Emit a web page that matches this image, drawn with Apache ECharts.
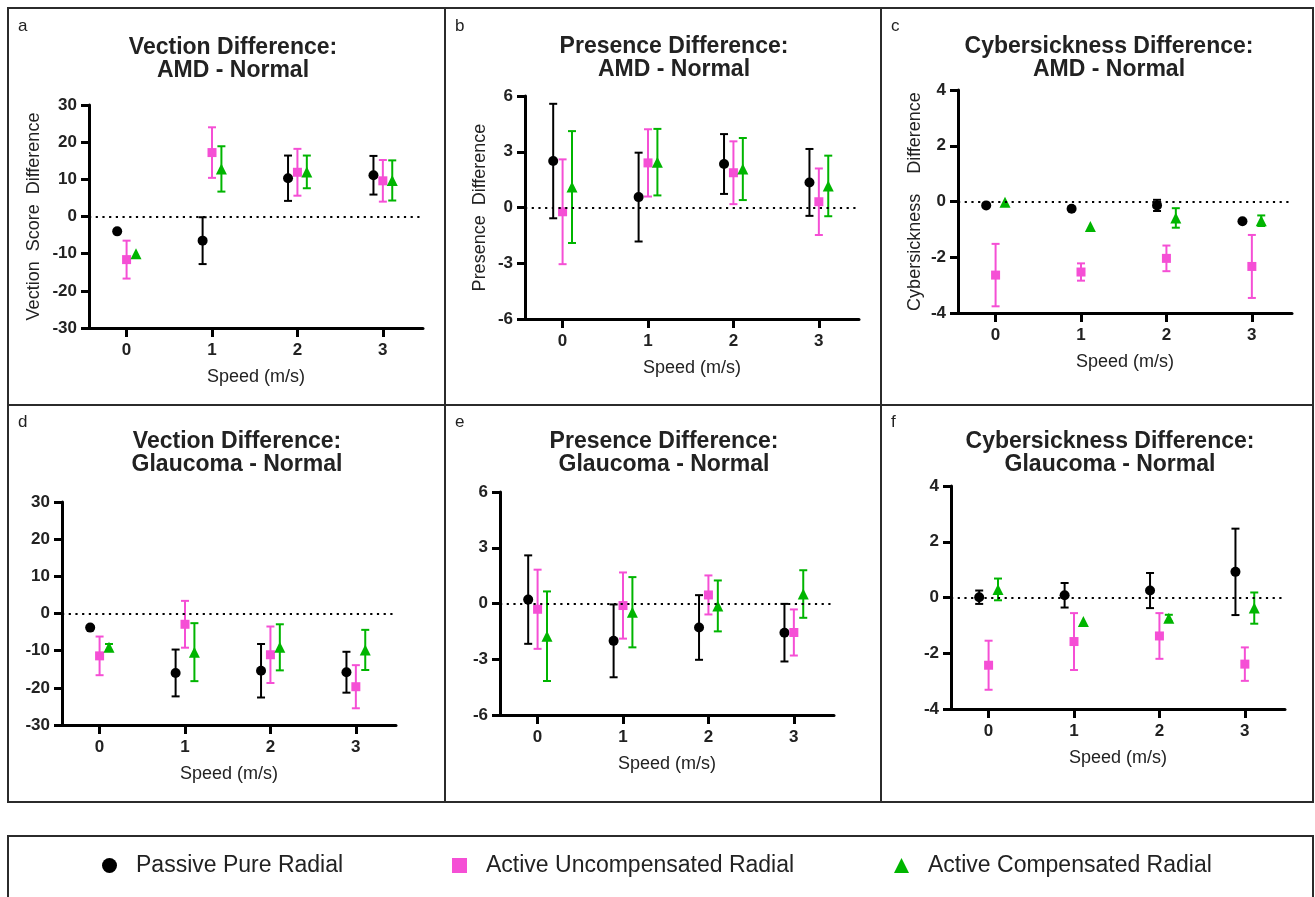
<!DOCTYPE html>
<html>
<head>
<meta charset="utf-8">
<title>Vection, Presence and Cybersickness Differences</title>
<script src="https://cdn.jsdelivr.net/npm/echarts@6/dist/echarts.min.js"></script>
<style>
  html, body { margin: 0; padding: 0; background: #fff; }
  #main { width: 1315px; height: 897px; }
</style>
</head>
<body>
<div id="main"></div>
<script>
// speeds (m/s) and groups
const speeds = [0, 1, 2, 3];
const groups = ["Passive Pure Radial", "Active Uncompensated Radial", "Active Compensated Radial"];

// a: Vection Difference, AMD - Normal
const vecAmdPassive = [-4.0, -6.5, 10.3, 11.1];
const vecAmdPassiveErr = [0, 6.3, 6.1, 5.2];
const vecAmdUncomp = [-11.6, 17.2, 11.9, 9.6];
const vecAmdUncompErr = [5.1, 6.8, 6.3, 5.6];
const vecAmdComp = [-10.0, 12.8, 12.0, 9.7];
const vecAmdCompErr = [0, 6.1, 4.4, 5.4];

// b: Presence Difference, AMD - Normal
const presAmdPassive = [2.5, 0.56, 2.34, 1.35];
const presAmdPassiveErr = [3.08, 2.39, 1.61, 1.8];
const presAmdUncomp = [-0.23, 2.4, 1.87, 0.31];
const presAmdUncompErr = [2.82, 1.81, 1.69, 1.79];
const presAmdComp = [1.1, 2.44, 2.07, 1.16];
const presAmdCompErr = [3.01, 1.79, 1.67, 1.63];

// c: Cybersickness Difference, AMD - Normal
const cyberAmdPassive = [-0.14, -0.26, -0.14, -0.71];
const cyberAmdPassiveErr = [0, 0, 0.2, 0];
const cyberAmdUncomp = [-2.64, -2.53, -2.04, -2.33];
const cyberAmdUncompErr = [1.12, 0.31, 0.46, 1.13];
const cyberAmdComp = [-0.03, -0.9, -0.59, -0.69];
const cyberAmdCompErr = [0, 0, 0.35, 0.19];

// d: Vection Difference, Glaucoma - Normal
const vecGlPassive = [-3.8, -16.0, -15.4, -15.8];
const vecGlPassiveErr = [0, 6.3, 7.2, 5.5];
const vecGlUncomp = [-11.4, -2.9, -11.1, -19.7];
const vecGlUncompErr = [5.2, 6.3, 7.6, 5.8];
const vecGlComp = [-9.1, -10.4, -9.1, -9.8];
const vecGlCompErr = [0.9, 7.8, 6.2, 5.4];

// e: Presence Difference, Glaucoma - Normal
const presGlPassive = [0.21, -2.01, -1.29, -1.57];
const presGlPassiveErr = [2.38, 1.96, 1.74, 1.55];
const presGlUncomp = [-0.31, -0.11, 0.46, -1.56];
const presGlUncompErr = [2.13, 1.78, 1.05, 1.24];
const presGlComp = [-1.76, -0.47, -0.13, 0.51];
const presGlCompErr = [2.41, 1.89, 1.37, 1.28];

// f: Cybersickness Difference, Glaucoma - Normal
const cyberGlPassive = [0.01, 0.08, 0.25, 0.92];
const cyberGlPassiveErr = [0.24, 0.44, 0.63, 1.55];
const cyberGlUncomp = [-2.43, -1.58, -1.38, -2.39];
const cyberGlUncompErr = [0.88, 1.02, 0.82, 0.6];
const cyberGlComp = [0.29, -0.86, -0.74, -0.38];
const cyberGlCompErr = [0.39, 0, 0.12, 0.56];

const colors = ["#000000", "#f54fd5", "#00b500"];
const symbols = ["circle", "rect", "triangle"];
const symbolSizes = [10, 9, 11];
const offsets = [-0.11, 0, 0.11];
const font = '"Liberation Sans", Arial, Helvetica, sans-serif';
const ink = "#222";

const panels = [
  { letter: "a", title: "Vection Difference:\nAMD - Normal", left: 89, top: 105, titleX: 233, titleY: 36,
    yMin: -30, yMax: 30, yStep: 10, yName: "Vection  Score  Difference", nameGap: 46,
    series: [[vecAmdPassive, vecAmdPassiveErr], [vecAmdUncomp, vecAmdUncompErr], [vecAmdComp, vecAmdCompErr]] },
  { letter: "b", title: "Presence Difference:\nAMD - Normal", left: 525, top: 96, titleX: 674, titleY: 35,
    yMin: -6, yMax: 6, yStep: 3, yName: "Presence  Difference", nameGap: 36,
    series: [[presAmdPassive, presAmdPassiveErr], [presAmdUncomp, presAmdUncompErr], [presAmdComp, presAmdCompErr]] },
  { letter: "c", title: "Cybersickness Difference:\nAMD - Normal", left: 958, top: 90, titleX: 1109, titleY: 35,
    yMin: -4, yMax: 4, yStep: 2, yName: "Cybersickness    Difference", nameGap: 34,
    series: [[cyberAmdPassive, cyberAmdPassiveErr], [cyberAmdUncomp, cyberAmdUncompErr], [cyberAmdComp, cyberAmdCompErr]] },
  { letter: "d", title: "Vection Difference:\nGlaucoma - Normal", left: 62, top: 502, titleX: 237, titleY: 430,
    yMin: -30, yMax: 30, yStep: 10, yName: "", nameGap: 40,
    series: [[vecGlPassive, vecGlPassiveErr], [vecGlUncomp, vecGlUncompErr], [vecGlComp, vecGlCompErr]] },
  { letter: "e", title: "Presence Difference:\nGlaucoma - Normal", left: 500, top: 492, titleX: 664, titleY: 430,
    yMin: -6, yMax: 6, yStep: 3, yName: "", nameGap: 40,
    series: [[presGlPassive, presGlPassiveErr], [presGlUncomp, presGlUncompErr], [presGlComp, presGlCompErr]] },
  { letter: "f", title: "Cybersickness Difference:\nGlaucoma - Normal", left: 951, top: 486, titleX: 1110, titleY: 430,
    yMin: -4, yMax: 4, yStep: 2, yName: "", nameGap: 40,
    series: [[cyberGlPassive, cyberGlPassiveErr], [cyberGlUncomp, cyberGlUncompErr], [cyberGlComp, cyberGlCompErr]] }
];
const letterPos = [[18, 18], [455, 18], [891, 18], [18, 414], [455, 414], [891, 414]];

function errorBarItem(params, api) {
  const x = api.value(0), lo = api.value(1), hi = api.value(2);
  if (!(hi > lo)) return null;
  const t = api.coord([x, hi]);
  const b = api.coord([x, lo]);
  const half = 4;
  const style = { stroke: api.visual("color"), lineWidth: 2 };
  return {
    type: "group",
    children: [
      { type: "line", shape: { x1: t[0], y1: t[1], x2: b[0], y2: b[1] }, style },
      { type: "line", shape: { x1: t[0] - half, y1: t[1], x2: t[0] + half, y2: t[1] }, style },
      { type: "line", shape: { x1: b[0] - half, y1: b[1], x2: b[0] + half, y2: b[1] }, style }
    ]
  };
}

const grid = [], xAxis = [], yAxis = [], series = [], title = [];

panels.forEach((p, i) => {
  grid.push({ left: p.left, top: p.top, width: 334, height: 223 });
  title.push({
    text: p.title, left: p.titleX, top: p.titleY, textAlign: "center", padding: 0,
    textStyle: { fontFamily: font, fontSize: 23, fontWeight: "bold", color: ink, lineHeight: 23 }
  });
  title.push({
    text: p.letter, left: letterPos[i][0], top: letterPos[i][1], padding: 0,
    textStyle: { fontFamily: font, fontSize: 17, fontWeight: "normal", color: ink }
  });
  xAxis.push({
    gridIndex: i, type: "value", min: -0.44, max: 3.47,
    name: "Speed (m/s)", nameLocation: "middle", nameGap: 40,
    nameTextStyle: { fontFamily: font, fontSize: 18, color: ink },
    axisLine: { onZero: false, lineStyle: { color: "#000", width: 3 } },
    axisTick: { length: 9, lineStyle: { color: "#000", width: 3 }, customValues: speeds },
    axisLabel: { margin: 14, fontFamily: font, fontSize: 17, fontWeight: "bold", color: ink, customValues: speeds },
    splitLine: { show: false }
  });
  yAxis.push({
    gridIndex: i, type: "value", min: p.yMin, max: p.yMax, interval: p.yStep,
    name: p.yName, nameLocation: "middle", nameGap: p.nameGap, nameRotate: 90,
    nameTextStyle: { fontFamily: font, fontSize: 18, color: ink },
    axisLine: { show: true, onZero: false, lineStyle: { color: "#000", width: 3 } },
    axisTick: { show: true, length: 8, lineStyle: { color: "#000", width: 3 } },
    axisLabel: { margin: 12, fontFamily: font, fontSize: 17, fontWeight: "bold", color: ink },
    splitLine: { show: false }
  });

  p.series.forEach(([means, errs], g) => {
    series.push({
      name: groups[g], type: "custom", xAxisIndex: i, yAxisIndex: i,
      renderItem: errorBarItem, itemStyle: { color: colors[g] }, z: 2,
      encode: { x: 0, y: [1, 2] },
      data: speeds.map((s, k) => [s + offsets[g], means[k] - errs[k], means[k] + errs[k]])
    });
    series.push({
      name: groups[g], type: "scatter", xAxisIndex: i, yAxisIndex: i,
      symbol: symbols[g], symbolSize: symbolSizes[g], itemStyle: { color: colors[g], opacity: 1 }, z: 3,
      data: speeds.map((s, k) => [s + offsets[g], means[k]]),
      markLine: g === 0 ? {
        silent: true, symbol: "none", label: { show: false },
        lineStyle: { color: "#000", width: 2.2, type: [2.2, 4.5] },
        data: [{ yAxis: 0 }]
      } : undefined
    });
  });
});

const legend = groups.map((name, g) => ({
  data: [{ name, icon: symbols[g], itemStyle: { color: colors[g] } }],
  left: [102, 452, 894][g], top: 854, padding: 0,
  itemWidth: 15, itemHeight: 15, selectedMode: false,
  textStyle: { fontFamily: font, fontSize: 23, color: ink, padding: [0, 0, 0, 14] }
}));

const border = { stroke: "#2b2b2b", lineWidth: 2, fill: null };
const chart = echarts.init(document.getElementById("main"), null, { renderer: "canvas" });
chart.setOption({
  animation: false,
  backgroundColor: "#fff",
  title, grid, xAxis, yAxis, series, legend,
  graphic: [
    { type: "rect", shape: { x: 8, y: 8, width: 1305, height: 794 }, style: border, silent: true },
    { type: "line", shape: { x1: 445, y1: 8, x2: 445, y2: 802 }, style: border, silent: true },
    { type: "line", shape: { x1: 881, y1: 8, x2: 881, y2: 802 }, style: border, silent: true },
    { type: "line", shape: { x1: 8, y1: 405, x2: 1313, y2: 405 }, style: border, silent: true },
    { type: "rect", shape: { x: 8, y: 836, width: 1305, height: 80 }, style: border, silent: true }
  ]
});
</script>
</body>
</html>
